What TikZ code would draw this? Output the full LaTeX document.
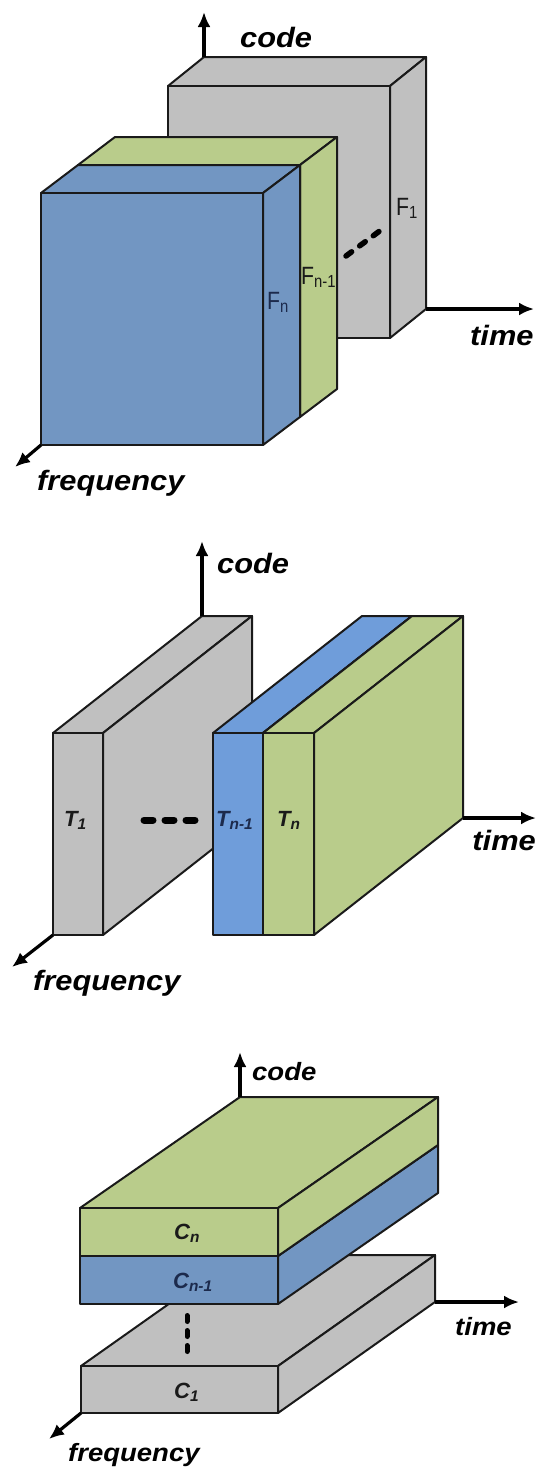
\documentclass[tikz,border=0pt]{standalone}
\usepackage{fontspec}
\usepackage{graphicx}
\setmainfont{Liberation Sans}
\usetikzlibrary{arrows.meta}

\definecolor{slabgrey}{HTML}{C0C0C0}
\definecolor{slabgreen}{HTML}{B9CC8B}
\definecolor{slabblue}{HTML}{7296C2}
\definecolor{slabbluelight}{HTML}{6F9DDA}
\definecolor{edgeink}{HTML}{1A1A1A}
\definecolor{navyink}{HTML}{1C2A4C}

% axis caption text, bold italic and slightly widened
\newcommand\axtext[2]{\scalebox{1.1}[1]{\fontsize{#1}{#1}\selectfont\bfseries\itshape #2}}

% a box: name, front top-left x, y, width, height, depth dx, dy, fill colour
\newcommand\slab[8]{%
  \path (#2,#3) coordinate (#1-ftl) ++(#4,0) coordinate (#1-ftr)
        ++(0,#5) coordinate (#1-fbr) ++(-#4,0) coordinate (#1-fbl);
  \path (#1-ftl) ++(#6,#7) coordinate (#1-btl);
  \path (#1-ftr) ++(#6,#7) coordinate (#1-btr);
  \path (#1-fbr) ++(#6,#7) coordinate (#1-bbr);
  \draw[face, fill=#8] (#1-ftl) -- (#1-btl) -- (#1-btr) -- (#1-ftr) -- cycle;
  \draw[face, fill=#8] (#1-ftr) -- (#1-btr) -- (#1-bbr) -- (#1-fbr) -- cycle;
  \draw[face, fill=#8] (#1-ftl) rectangle (#1-fbr);
}

\tikzset{
  face/.style={draw=edgeink, line width=2pt, line join=round},
  axis/.style={draw=black, line width=3.2pt, -{Latex[length=15pt,width=13pt]}},
  axlabel/.style={inner sep=0pt, anchor=base west},
  flabel/.style={inner sep=0pt, anchor=base west, text=edgeink,
                 font=\fontsize{25}{28}\selectfont},
  tlabel/.style={inner sep=0pt, anchor=base west, text=edgeink,
                 font=\fontsize{22}{25}\selectfont\bfseries\itshape},
  clabel/.style={inner sep=0pt, anchor=base west, text=edgeink,
                 font=\fontsize{22}{25}\selectfont\bfseries\itshape},
  ellipsis/.style={draw=black, line cap=round},
}

\begin{document}
\begin{tikzpicture}[x=1pt, y=-1pt]
\useasboundingbox (0,0) rectangle (537,1468);
\fill[white] (0,0) rectangle (537,1468);

% ---------- frequency slicing ----------
\slab{ga}{168}{86}{222}{252}{36}{-29}{slabgrey}
\slab{gb}{78}{165}{222}{252}{37}{-28}{slabgreen}
\slab{gc}{41}{193}{222}{252}{37}{-28}{slabblue}

\coordinate (codeA) at (204,12);
\coordinate (timeA) at (534,309);
\coordinate (freqA) at (15,467);
\draw[axis] (ga-btl) -- (codeA);
\draw[axis] (ga-bbr) -- (timeA);
\draw[axis] (gc-fbl) -- (freqA);
\node[axlabel] (codeAl) at (240,47) {\axtext{28}{code}};
\node[axlabel] (timeAl) at (470,345) {\axtext{28}{time}};
\node[axlabel] (freqAl) at (37,490) {\axtext{28}{frequency}};

\node[flabel, text=navyink] (fn) at (267,309) {\scalebox{0.85}[1]{F\textsubscript{n}}};
\node[flabel] (fn1) at (301,284) {\scalebox{0.85}[1]{F\textsubscript{n-1}}};
\node[flabel] (f1) at (396,215) {\scalebox{0.85}[1]{F\textsubscript{1}}};
\coordinate (dotsAs) at (346,256);
\coordinate (dotsAe) at (381,230);
\draw[ellipsis, line width=5.5pt, dash pattern=on 7pt off 10pt] (dotsAs) -- (dotsAe);

% ---------- time slicing ----------
\slab{ta}{53}{733}{50}{202}{149}{-117}{slabgrey}
\slab{tb}{213}{733}{50}{202}{149}{-117}{slabbluelight}
\slab{tc}{263}{733}{51}{202}{149}{-117}{slabgreen}

\coordinate (codeB) at (202,541);
\coordinate (timeB) at (536,818);
\coordinate (freqB) at (12,967);
\draw[axis] (ta-btl) -- (codeB);
\draw[axis] (tc-bbr) -- (timeB);
\draw[axis] (ta-fbl) -- (freqB);
\node[axlabel] (codeBl) at (217,573) {\axtext{28}{code}};
\node[axlabel, anchor=base east] (timeBl) at (536,850) {\axtext{28}{time}};
\node[axlabel] (freqBl) at (33,990) {\axtext{28}{frequency}};

\node[tlabel] (t1) at (64,826) {T\textsubscript{1}};
\node[tlabel, text=navyink] (tn1) at (216,826) {T\textsubscript{n-1}};
\node[tlabel] (tn) at (277,826) {T\textsubscript{n}};
\coordinate (dotsBs) at (144,820);
\coordinate (dotsBe) at (195,820);
\draw[ellipsis, line width=7pt, dash pattern=on 9pt off 12pt] (dotsBs) -- (dotsBe);

% ---------- code slicing ----------
\slab{ca}{81}{1366}{197}{47}{157}{-111}{slabgrey}
\slab{cb}{80}{1256}{198}{48}{160}{-111}{slabblue}
\slab{cc}{80}{1208}{198}{48}{160}{-111}{slabgreen}

\coordinate (codeC) at (240,1052);
\coordinate (timeC) at (519,1302);
\coordinate (freqC) at (49,1439);
\draw[axis] (cc-btl) -- (codeC);
\draw[axis] (ca-bbr) -- (timeC);
\draw[axis] (ca-fbl) -- (freqC);
\node[axlabel] (codeCl) at (252,1080) {\axtext{25}{code}};
\node[axlabel] (timeCl) at (455,1335) {\axtext{25}{time}};
\node[axlabel] (freqCl) at (68,1461) {\axtext{25}{frequency}};

\node[clabel] (cn) at (174,1239) {C\textsubscript{n}};
\node[clabel, text=navyink] (cn1) at (173,1288) {C\textsubscript{n-1}};
\node[clabel] (c1) at (174,1398) {C\textsubscript{1}};
\coordinate (dotsCs) at (187,1315.5);
\coordinate (dotsCe) at (187,1351.5);
\draw[ellipsis, line width=5pt, dash pattern=on 6pt off 9pt] (dotsCs) -- (dotsCe);
\end{tikzpicture}
\end{document}
